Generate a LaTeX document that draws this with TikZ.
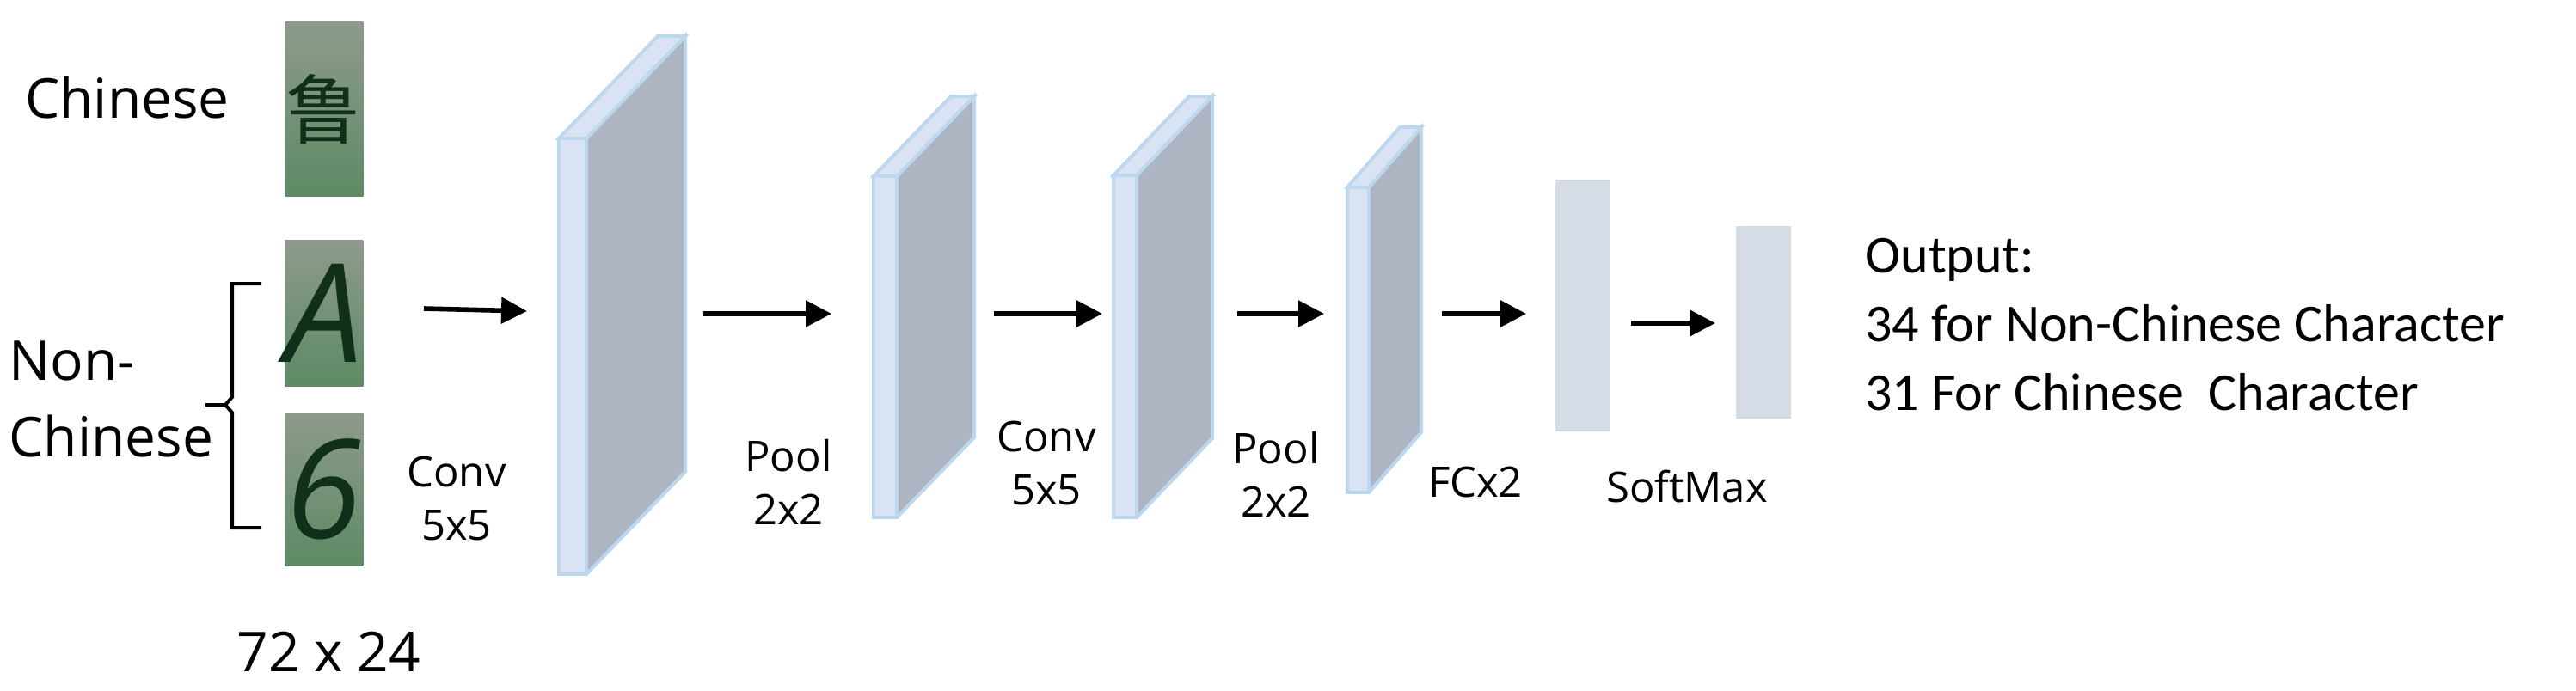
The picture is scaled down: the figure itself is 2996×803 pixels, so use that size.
\documentclass[tikz,border=0pt]{standalone}
\usepackage{fontspec}
\setmainfont{Open Sans}
\newfontfamily\calfont{Carlito}
\newfontfamily\cjkfont{Noto Sans CJK SC}
\usetikzlibrary{arrows.meta}
\definecolor{edgeblue}{HTML}{BDD7EE}
\definecolor{frontblue}{HTML}{DAE3F3}
\definecolor{sidegray}{HTML}{ADB5C3}
\definecolor{fcgray}{HTML}{D6DCE5}
\definecolor{imggreen}{HTML}{5E8A64}
\definecolor{imggray}{HTML}{8E9A8C}
\definecolor{glyph}{HTML}{10301A}
\tikzset{
  lbl/.style={font=\fontsize{24.5}{31}\selectfont, align=center, inner sep=0pt},
  biglbl/.style={font=\fontsize{32}{38}\selectfont, align=left, inner sep=0pt},
  arr/.style={line width=2.8pt, -{Triangle[length=15pt,width=15pt]}},
  face/.style={draw=edgeblue, line width=2pt, line join=miter},
  img/.style={inner sep=0pt, minimum width=45.5pt, anchor=north west, top color=imggray, bottom color=imggreen},
}
\newcommand{\layer}[7]{% name, x1, x2, top, bottom, dx, dy
  \fill[sidegray] (#3,#4) -- (#3+#6,#4+#7) -- (#3+#6,#5+#7) -- (#3,#5) -- cycle;
  \draw[face] (#3,#4) -- (#3+#6,#4+#7) -- (#3+#6,#5+#7) -- (#3,#5);
  \draw[face, fill=frontblue] (#2,#4) -- (#2+#6,#4+#7) -- (#3+#6,#4+#7) -- (#3,#4) -- cycle;
  \draw[face, fill=frontblue] (#2,#4) rectangle (#3,#5);
  \coordinate (#1w) at (#2,{(#4+#5)/2});
  \coordinate (#1e) at (#3+#6,{(#4+#5)/2});
}
\begin{document}
\begin{tikzpicture}[x=0.5pt,y=-0.5pt]
\useasboundingbox (0,0) rectangle (2996,803);
% labels left
\node[biglbl] (chn) at (148,113) {Chinese};
\node[biglbl, anchor=west] (non) at (10,420) {Non-};
\node[biglbl, anchor=west] (nch) at (10,507) {Chinese};
\node[biglbl] (size) at (382,758) {72 x 24};
% images
\node[img, minimum height=101.5pt] (i1) at (331,25) {\cjkfont\fontsize{44}{44}\selectfont\color{glyph}鲁};
\node[img, minimum height=85pt] (i2) at (331,279) {\fontsize{80}{80}\selectfont\color{glyph}\textit{A}};
\node[img, minimum height=89pt] (i3) at (331,480) {\fontsize{80}{80}\selectfont\color{glyph}\textit{6}};
% brace
\coordinate (bt) at (304,330);
\coordinate (bb) at (304,614);
\coordinate (btip) at (239,471);
\draw[line width=2pt] (bt) -- (270,330) -- (270,462) -- (262,471) -- (btip);
\draw[line width=2pt] (262,471) -- (270,480) -- (270,614) -- (bb);
% layers
\layer{L1}{650}{682}{161}{668}{115}{-119}
\layer{L2}{1016}{1043}{205}{602}{90}{-93}
\layer{L3}{1295}{1322}{204}{602}{88}{-92}
\layer{L4}{1567}{1592}{218}{573}{61}{-70}
\fill[fcgray] (1809,209) rectangle (1872,502);
\fill[fcgray] (2019,263) rectangle (2083,487);
% arrows
\coordinate (a0s) at (493,359); \coordinate (a0e) at (613,362);
\draw[arr] (a0s) -- (a0e);
\coordinate (a1s) at (818,365); \coordinate (a1e) at (967,365);
\draw[arr] (a1s) -- (a1e);
\coordinate (a2s) at (1156,365); \coordinate (a2e) at (1282,365);
\draw[arr] (a2s) -- (a2e);
\coordinate (a3s) at (1439,365); \coordinate (a3e) at (1540,365);
\draw[arr] (a3s) -- (a3e);
\coordinate (a4s) at (1677,365); \coordinate (a4e) at (1775,365);
\draw[arr] (a4s) -- (a4e);
\coordinate (a5s) at (1897,376); \coordinate (a5e) at (1995,376);
\draw[arr] (a5s) -- (a5e);
% operation labels
\node[lbl] (c1) at (531,580) {Conv\\5x5};
\node[lbl] (p1) at (917,561) {Pool\\2x2};
\node[lbl] (c2) at (1217,539) {Conv\\5x5};
\node[lbl] (p2) at (1484,552) {Pool\\2x2};
\node[lbl] (fc) at (1716,561) {FCx2};
\node[lbl] (sm) at (1962,566) {SoftMax};
% output
\node[anchor=west, inner sep=0pt, align=left, font=\calfont\fontsize{31}{40}\selectfont] (out) at (2169,378) {Output:\\34 for Non-Chinese Character\\31 For Chinese~~Character};
\end{tikzpicture}
\end{document}
